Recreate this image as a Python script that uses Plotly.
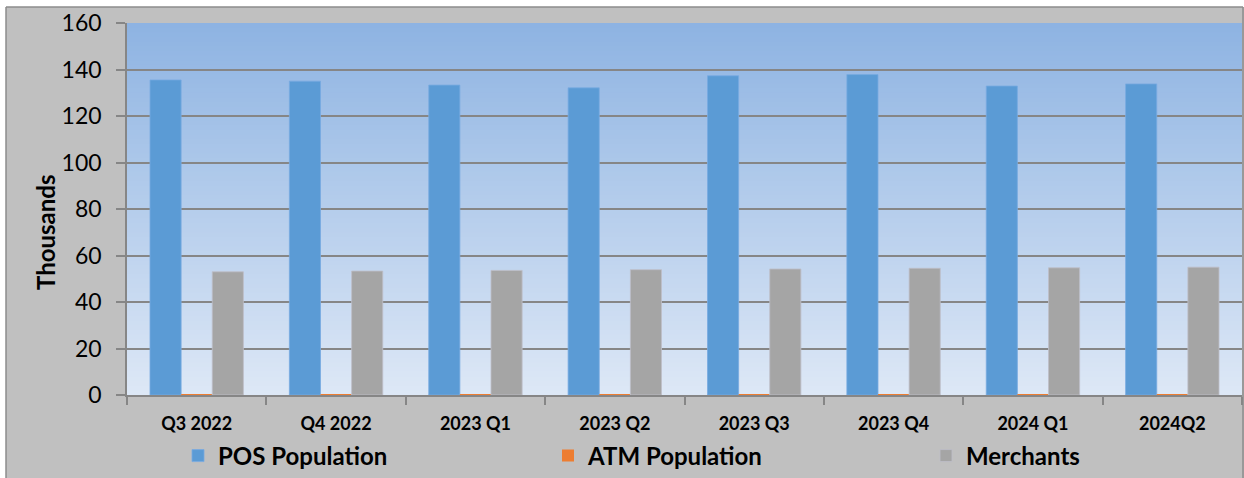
import plotly.graph_objects as go

categories = ["Q3 2022", "Q4 2022", "2023 Q1", "2023 Q2", "2023 Q3", "2023 Q4", "2024 Q1", "2024Q2"]
pos_population = [135.5, 135.0, 133.3, 132.1, 137.3, 137.8, 132.9, 133.8]
atm_population = [0.35, 0.35, 0.35, 0.35, 0.35, 0.34, 0.34, 0.34]
merchants = [53.0, 53.3, 53.6, 53.9, 54.2, 54.5, 54.7, 55.0]
y_ticks = [0, 20, 40, 60, 80, 100, 120, 140, 160]

FONT = "Lato"
W, H = 1244, 478
ML, MR, MT, MB = 127, 2, 23, 83
PW = W - ML - MR
PH = H - MT - MB

def px_to_paper_x(p):
    return (p - ML) / PW

def px_to_paper_y(p):
    return (H - MB - p) / PH

fig = go.Figure()
fig.add_trace(go.Bar(name="POS Population", x=categories, y=pos_population, legend="legend",
                     marker=dict(color="#5b9bd5", line=dict(color="rgba(120,170,225,0.8)", width=1))))
fig.add_trace(go.Bar(name="ATM Population", x=categories, y=atm_population, legend="legend2",
                     marker=dict(color="#ed7d31", line=dict(width=0))))
fig.add_trace(go.Bar(name="Merchants", x=categories, y=merchants, legend="legend3",
                     marker=dict(color="#a5a5a5", line=dict(color="rgba(190,190,200,0.8)", width=1))))

shapes = []
# outer chart area (gray)
shapes.append(dict(type="rect", xref="paper", yref="paper",
                   x0=px_to_paper_x(6), x1=px_to_paper_x(1244),
                   y0=px_to_paper_y(478), y1=px_to_paper_y(7),
                   fillcolor="#c0c0c0", line=dict(width=0), layer="below"))
# chart border on left, top, right
border = dict(color="#8c8c8c", width=1.5)
shapes.append(dict(type="line", xref="paper", yref="paper",
                   x0=px_to_paper_x(6), x1=px_to_paper_x(6),
                   y0=px_to_paper_y(478), y1=px_to_paper_y(7), line=border, layer="below"))
shapes.append(dict(type="line", xref="paper", yref="paper",
                   x0=px_to_paper_x(6), x1=px_to_paper_x(1243),
                   y0=px_to_paper_y(7), y1=px_to_paper_y(7), line=border, layer="below"))
shapes.append(dict(type="line", xref="paper", yref="paper",
                   x0=px_to_paper_x(1243), x1=px_to_paper_x(1243),
                   y0=px_to_paper_y(478), y1=px_to_paper_y(7), line=border, layer="below"))
# vertical gradient in plot area
top = (141, 179, 226)
bot = (222, 232, 246)
N = 80
for i in range(N):
    f = (i + 0.5) / N
    c = tuple(round(top[k] + (bot[k] - top[k]) * f) for k in range(3))
    y1 = 1 - i / N
    y0 = 1 - (i + 1) / N
    shapes.append(dict(type="rect", xref="paper", yref="paper", x0=0, x1=px_to_paper_x(1242),
                       y0=y0 - 0.002, y1=y1, fillcolor="rgb(%d,%d,%d)" % c,
                       line=dict(width=0), layer="below"))

legend_font = dict(family=FONT, size=24, color="black", weight="bold")
def legend_at(px):
    return dict(orientation="h", x=px_to_paper_x(px - 19), xanchor="left",
                y=px_to_paper_y(456), yanchor="middle",
                font=legend_font, bgcolor="rgba(0,0,0,0)")

fig.update_layout(
    width=W, height=H,
    margin=dict(l=ML, r=MR, t=MT, b=MB, autoexpand=False),
    paper_bgcolor="white",
    plot_bgcolor="rgba(0,0,0,0)",
    barmode="group", bargap=0.33, bargroupgap=0,
    shapes=shapes,
    font=dict(family=FONT, color="black"),
    showlegend=True,
    legend=legend_at(197),
    legend2=legend_at(567),
    legend3=legend_at(945),
    annotations=[dict(text="<b>Thousands</b>", xref="paper", yref="paper",
                      x=px_to_paper_x(46), y=px_to_paper_y(233),
                      xanchor="center", yanchor="middle", textangle=-90, showarrow=False,
                      font=dict(family=FONT, size=24, color="black"))],
    xaxis=dict(type="category", showgrid=False, showline=True, linecolor="#868686", linewidth=1.5,
               automargin=False,
               ticks="outside", tickson="boundaries", ticklen=8, tickcolor="#868686", tickwidth=1.5,
               tickfont=dict(family=FONT, size=18, color="black", weight="bold"),
               ticklabelstandoff=12),
    yaxis=dict(range=[0, 160], tickvals=y_ticks, showgrid=True, gridcolor="#868686", gridwidth=1.5,
               automargin=False,
               showline=True, linecolor="#868686", linewidth=1.5, zeroline=False,
               ticks="outside", ticklen=9, tickcolor="#868686", tickwidth=1.5,
               tickfont=dict(family=FONT, size=23, color="black"),
               ticklabelstandoff=10),
)

fig.write_html("out.html", config={"displayModeBar": False},
               post_script="document.body.style.margin='0';document.body.style.overflow='hidden';")
